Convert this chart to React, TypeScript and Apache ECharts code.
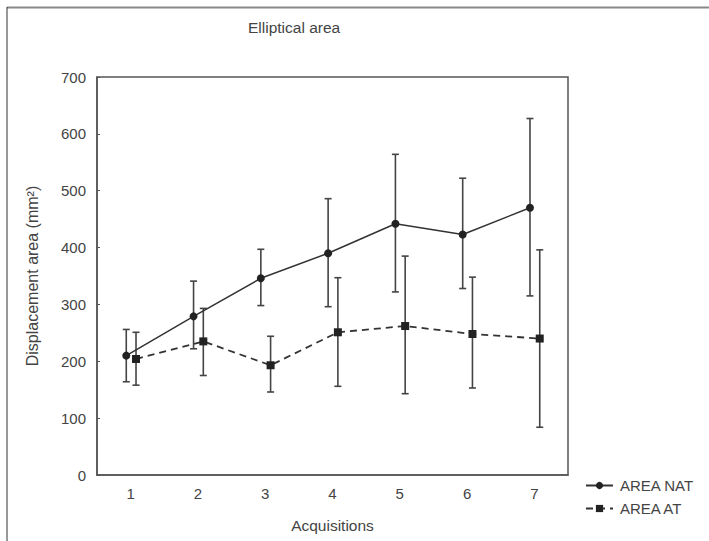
import React, { useEffect, useRef } from "react";
import * as echarts from "echarts";

const categories = ["1", "2", "3", "4", "5", "6", "7"];
const natMean = [210, 279, 346, 390, 442, 423, 470];
const natLow = [164, 222, 298, 296, 322, 328, 315];
const natHigh = [256, 341, 397, 486, 564, 522, 627];
const atMean = [204, 235, 193, 251, 262, 248, 240];
const atLow = [158, 175, 146, 156, 143, 153, 84];
const atHigh = [251, 293, 244, 347, 385, 348, 396];
const yTicks = [0, 100, 200, 300, 400, 500, 600, 700];

const NAT_OFF = -0.065;
const AT_OFF = 0.08;
const FONT = "Liberation Sans, Arial, sans-serif";

function errItem(params: any, api: any) {
  const x = api.value(0);
  const lo = api.coord([x, api.value(1)]);
  const hi = api.coord([x, api.value(2)]);
  const hw = 3.5;
  const style = { stroke: "#444", lineWidth: 1.6, fill: "none" };
  return {
    type: "group",
    children: [
      { type: "line", shape: { x1: lo[0], y1: lo[1], x2: hi[0], y2: hi[1] }, style },
      { type: "line", shape: { x1: hi[0] - hw, y1: hi[1], x2: hi[0] + hw, y2: hi[1] }, style },
      { type: "line", shape: { x1: lo[0] - hw, y1: lo[1], x2: lo[0] + hw, y2: lo[1] }, style },
    ],
  };
}

export default function App() {
  const ref = useRef<HTMLDivElement>(null);
  useEffect(() => {
    if (!ref.current) return;
    const chart = echarts.init(ref.current, undefined, { renderer: "svg" });
    const natLine = categories.map((c, i) => [i + 1 + NAT_OFF, natMean[i]]);
    const atLine = categories.map((c, i) => [i + 1 + AT_OFF, atMean[i]]);
    const natErr = categories.map((c, i) => [i + 1 + NAT_OFF, natLow[i], natHigh[i]]);
    const atErr = categories.map((c, i) => [i + 1 + AT_OFF, atLow[i], atHigh[i]]);
    chart.setOption({
      animation: false,
      backgroundColor: "#fff",
      textStyle: { fontFamily: FONT },
      title: {
        text: "Elliptical area",
        left: 248,
        top: 19,
        padding: 0,
        textStyle: { fontSize: 15.5, fontWeight: "normal", color: "#444", fontFamily: FONT },
      },
      grid: {
        left: 97,
        right: 141,
        top: 77,
        bottom: 66,
        show: true,
        borderColor: "#555",
        borderWidth: 1.5,
        backgroundColor: "transparent",
      },
      legend: {
        orient: "vertical",
        left: 585,
        top: 478,
        padding: 0,
        itemWidth: 27,
        itemHeight: 9,
        itemGap: 8,
        textStyle: { fontSize: 15, color: "#444", fontFamily: FONT, padding: [0, 0, 0, 2] },
        data: ["AREA NAT", "AREA AT"],
      },
      xAxis: [
        {
          type: "category",
          data: categories,
          boundaryGap: true,
          name: "Acquisitions",
          nameLocation: "middle",
          nameGap: 42,
          nameTextStyle: { fontSize: 15.5, color: "#444", fontFamily: FONT },
          axisLine: { lineStyle: { color: "#555", width: 1.5 } },
          axisTick: { inside: true, length: 3, alignWithLabel: true, lineStyle: { color: "#555" } },
          axisLabel: { fontSize: 15, color: "#444", margin: 11, fontFamily: FONT },
          splitLine: { show: false },
        },
        {
          type: "value",
          min: 0.5,
          max: 7.5,
          show: false,
        },
      ],
      yAxis: {
        type: "value",
        min: yTicks[0],
        max: yTicks[yTicks.length - 1],
        interval: 100,
        name: "Displacement area (mm²)",
        nameLocation: "middle",
        nameGap: 57,
        nameTextStyle: { fontSize: 16, color: "#444", fontFamily: FONT },
        axisLine: { show: true, lineStyle: { color: "#555", width: 1.5 } },
        axisTick: { show: true, inside: true, length: 3, lineStyle: { color: "#555" } },
        axisLabel: { fontSize: 15, color: "#444", margin: 11, fontFamily: FONT },
        splitLine: { show: false },
      },
      series: [
        {
          name: "AREA NAT",
          type: "line",
          xAxisIndex: 1,
          data: natLine,
          symbol: "circle",
          symbolSize: 8,
          itemStyle: { color: "#222" },
          lineStyle: { color: "#333", width: 1.5 },
          z: 3,
        },
        {
          name: "AREA AT",
          type: "line",
          xAxisIndex: 1,
          data: atLine,
          symbol: "rect",
          symbolSize: 8,
          itemStyle: { color: "#222" },
          lineStyle: { color: "#333", width: 1.8, type: [7, 5] },
          z: 3,
        },
        {
          type: "custom",
          xAxisIndex: 1,
          data: natErr,
          renderItem: errItem,
          z: 2,
        },
        {
          type: "custom",
          xAxisIndex: 1,
          data: atErr,
          renderItem: errItem,
          z: 2,
        },
      ],
      graphic: [
        { type: "line", shape: { x1: 7, y1: 7.5, x2: 709, y2: 7.5 }, style: { stroke: "#888", lineWidth: 2 } },
        { type: "line", shape: { x1: 7, y1: 7, x2: 7, y2: 541 }, style: { stroke: "#333", lineWidth: 1 } },
      ],
    });
    return () => chart.dispose();
  }, []);
  return <div ref={ref} style={{ position: "fixed", left: 0, top: 0, width: 709, height: 541 }} />;
}
